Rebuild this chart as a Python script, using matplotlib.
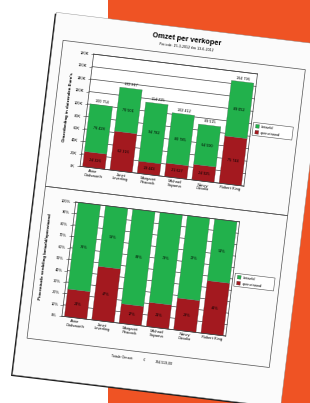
import numpy as np
import matplotlib as mpl
mpl.use('Agg')
import matplotlib.pyplot as plt
import matplotlib.transforms as mtransforms
from matplotlib.artist import Artist
from matplotlib.patches import Rectangle
from matplotlib.text import Text
from matplotlib.axes import Axes
from matplotlib.axis import Axis, Tick

mpl.rc('font', family=['Liberation Sans', 'DejaVu Sans'])

#%% data
verkopers = ['Anne\nDodsworth', 'Janet\nLeverling', 'Margaret\nPeacock',
             'Michael\nSuyama', 'Nancy\nDavolio', 'Robert King']
betaald = np.array([76428, 70501, 94782, 80785, 64590, 89052])
openstaand = np.array([24326, 62316, 19443, 21627, 24925, 75744])
omzet_ticks = [0, 20, 40, 60, 80, 100, 120, 140, 160, 180]   # in K
pct_ticks = [0, 10, 20, 30, 40, 50, 60, 70, 80, 90, 100]

titel = 'Omzet per verkoper'
periode = 'Periode: 15-3-2012 t/m 13-6-2012'
ylabel_top = "Omzetbedrag in duizenden Euro's"
ylabel_bot = 'Procentuele verdeling betaald/openstaand'
legend_labels = ['betaald', 'openstaand']

GREEN = '#22b14c'
RED = '#a3191f'
ORANGE = '#ef5324'
GRID = '#4a4a4a'

totaal = betaald + openstaand
pct_open = openstaand / totaal * 100
pct_bet = 100 - pct_open


def fmt(n):
    return '{:,}'.format(int(n)).replace(',', ' ')


#%% page geometry (pixels, page is drawn upright and rotated afterwards)
FW, FH = 310, 403
L, B, W, H = 33.5, 10.75, 270, 365
ANGLE = 6.9
CX, CY = L + W / 2, B + H / 2
R = mtransforms.Affine2D().rotate_deg_around(CX, CY, -ANGLE)


def fx(u):
    return (L + u) / FW


def fy(v):
    return (B + H - v) / FH


fig = plt.figure(figsize=(FW / 100, FH / 100), dpi=100)

orange = Rectangle((108 / FW, 0), 1 - 108 / FW, 1, transform=fig.transFigure,
                   facecolor=ORANGE, edgecolor='none', zorder=-10)
shadow = Rectangle((L - 1.4, B - 1.4), W, H, transform=R,
                   facecolor='#1e1e1e', edgecolor='none', zorder=-9)
page = Rectangle((L, B), W, H, transform=R, facecolor='#fbfbfb',
                 edgecolor='#8a8a8a', linewidth=0.3, zorder=-8)
for p in (orange, shadow, page):
    fig.add_artist(p)

#%% header, frames, footer
fig.text(fx(133), fy(11), titel, ha='center', va='center',
         fontsize=5.3, fontweight='bold')
fig.text(fx(133), fy(19), periode, ha='center', va='center', fontsize=2.6)

for v0, v1 in [(27, 174), (174, 327)]:
    fig.add_artist(Rectangle((fx(10), fy(v1)), fx(254) - fx(10), fy(v0) - fy(v1),
                             transform=fig.transFigure, facecolor='none',
                             edgecolor='#505050', linewidth=0.5))

fig.text(fx(118), fy(335), 'Totale Omzet:', ha='right', va='center', fontsize=2.6)
fig.text(fx(129), fy(335), '\u20ac', ha='center', va='center', fontsize=2.6)
fig.text(fx(140), fy(335), fmt(totaal.sum()).replace(' ', '.') + ',00',
         ha='left', va='center', fontsize=2.6)


def legend(vc):
    fig.add_artist(Rectangle((fx(209), fy(vc + 6.5)), fx(249) - fx(209),
                             fy(vc - 6.5) - fy(vc + 6.5), transform=fig.transFigure,
                             facecolor='white', edgecolor='#505050', linewidth=0.4))
    for i, (lab, col) in enumerate(zip(legend_labels, [GREEN, RED])):
        v = vc - 3 + i * 6
        fig.add_artist(Rectangle((fx(211.5), fy(v + 1.8)), 3.6 / FW, 3.6 / FH,
                                 transform=fig.transFigure, facecolor=col,
                                 edgecolor='#404040', linewidth=0.2))
        fig.text(fx(217), fy(v), lab, ha='left', va='center', fontsize=2.8)


def style(ax):
    ax.set_xlim(-0.5, len(verkopers) - 0.5)
    ax.set_xticks(np.arange(len(verkopers)))
    ax.set_xticklabels(verkopers, fontsize=2.9, linespacing=1.0)
    ax.tick_params(axis='x', length=0, pad=1.5)
    ax.tick_params(axis='y', length=2.5, width=0.4, pad=1, labelsize=2.9,
                   color=GRID)
    ax.grid(axis='y', color=GRID, linewidth=0.5)
    ax.set_axisbelow(True)
    for s in ax.spines.values():
        s.set_linewidth(0.5)
        s.set_color('#404040')


x = np.arange(len(verkopers))

#%% top chart: omzet
ax1 = fig.add_axes([fx(42), fy(150), fx(207) - fx(42), fy(37) - fy(150)])
ax1.bar(x, openstaand, width=0.82, color=RED, edgecolor='#606060', linewidth=0.2)
ax1.bar(x, betaald, width=0.82, bottom=openstaand, color=GREEN,
        edgecolor='#606060', linewidth=0.2)
for i in x:
    ax1.text(i, totaal[i] + 2000, fmt(totaal[i]), ha='center', va='bottom',
             fontsize=2.7)
    ax1.text(i, openstaand[i] / 2, fmt(openstaand[i]), ha='center', va='center',
             fontsize=2.7)
    ax1.text(i, openstaand[i] + betaald[i] / 2, fmt(betaald[i]), ha='center',
             va='center', fontsize=2.7)
ax1.set_ylim(0, omzet_ticks[-1] * 1000)
ax1.set_yticks([t * 1000 for t in omzet_ticks])
ax1.set_yticklabels(['{}K'.format(t) for t in omzet_ticks])
style(ax1)
fig.text(fx(23), fy(93), ylabel_top, rotation=90, ha='center', va='center',
         fontsize=3.2, fontweight='bold')
legend(92)

#%% bottom chart: percentages
ax2 = fig.add_axes([fx(42), fy(301), fx(207) - fx(42), fy(186) - fy(301)])
ax2.bar(x, pct_open, width=0.82, color=RED, edgecolor='#606060', linewidth=0.2)
ax2.bar(x, pct_bet, width=0.82, bottom=pct_open, color=GREEN,
        edgecolor='#606060', linewidth=0.2)
for i in x:
    ax2.text(i, pct_open[i] / 2, '{:.0f}%'.format(pct_open[i]), ha='center',
             va='center', fontsize=2.7)
    ax2.text(i, pct_open[i] + pct_bet[i] / 2, '{:.0f}%'.format(pct_bet[i]),
             ha='center', va='center', fontsize=2.7)
ax2.set_ylim(0, 100)
ax2.set_yticks(pct_ticks)
ax2.set_yticklabels(['{}%'.format(t) for t in pct_ticks])
style(ax2)
fig.text(fx(18), fy(244), ylabel_bot, rotation=90, ha='center', va='center',
         fontsize=3.2, fontweight='bold')
legend(244)

#%% tilt the whole page
fig.canvas.draw()
skip = {fig.patch, orange, shadow, page}
for a in fig.findobj():
    if a is fig or a in skip or isinstance(a, (Axes, Axis, Tick)):
        continue
    a.set_transform(Artist.get_transform(a) + R)
    a.set_clip_on(False)
    if isinstance(a, Text):
        a.set_rotation(a.get_rotation() - ANGLE)
        a.set_rotation_mode('anchor')

fig.savefig('out.png', dpi=100)
